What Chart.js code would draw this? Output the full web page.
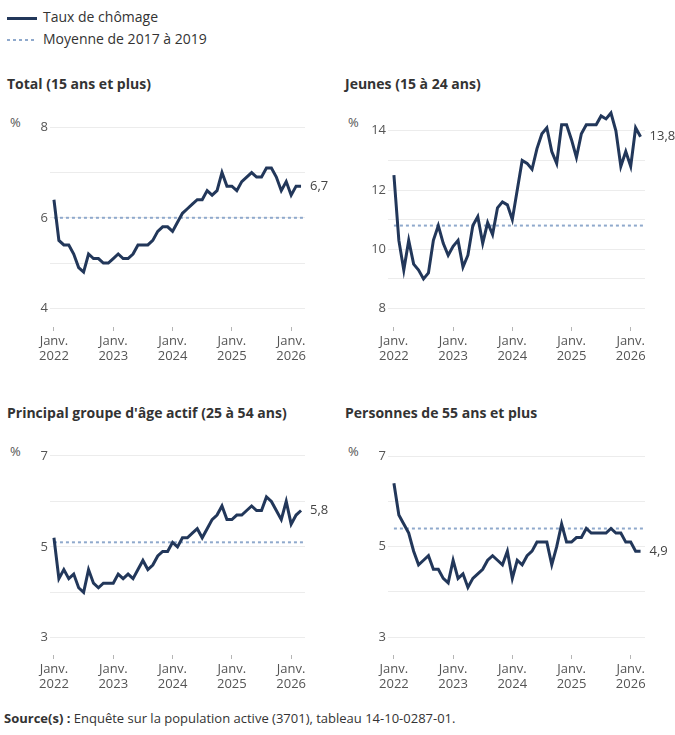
<!DOCTYPE html>
<html lang="fr">
<head>
<meta charset="utf-8">
<script src="https://cdn.jsdelivr.net/npm/chart.js@4.4.1/dist/chart.umd.min.js"></script>
<style>
  body { margin: 0; width: 675px; height: 735px; background: #fff; font-family: "Open Sans", sans-serif; color: #333; position: relative; overflow: hidden; }
  .abs { position: absolute; white-space: nowrap; }
  .leg { font-size: 14px; line-height: 18px; }
  .sw { display: inline-block; width: 30px; vertical-align: middle; margin-right: 6px; }
  .titre { font-size: 14px; font-weight: bold; line-height: 18px; }
  .pct { font-size: 13px; color: #555; line-height: 16px; }
  canvas { position: absolute; }
</style>
</head>
<body>
<div class="abs leg" style="left:7px; top:8px"><span class="sw" style="height:3px; background:#22375a"></span>Taux de chômage</div>
<div class="abs leg" style="left:7px; top:30px"><span class="sw" style="height:2px; width:28px; margin-right:8px; background:linear-gradient(to right, #8fa9cc 0 3px, transparent 3px 6px) repeat-x; background-size:6px 2px"></span>Moyenne de 2017 à 2019</div>

<div class="abs titre" style="left:7px; top:75px">Total (15 ans et plus)</div>
<div class="abs titre" style="left:345px; top:75px">Jeunes (15 à 24 ans)</div>
<div class="abs titre" style="left:7px; top:404px">Principal groupe d'âge actif (25 à 54 ans)</div>
<div class="abs titre" style="left:345px; top:404px">Personnes de 55 ans et plus</div>

<div class="abs pct" style="left:10px; top:114px">%</div>
<div class="abs pct" style="left:348px; top:114px">%</div>
<div class="abs pct" style="left:10px; top:443px">%</div>
<div class="abs pct" style="left:348px; top:443px">%</div>

<canvas id="c1"></canvas>
<canvas id="c2"></canvas>
<canvas id="c3"></canvas>
<canvas id="c4"></canvas>

<div class="abs" style="left:4px; top:709px; font-size:13px; line-height:18px"><b>Source(s) :</b> Enquête sur la population active (3701), tableau 14-10-0287-01.</div>

<script>
const mois = [
  'janv. 2022','févr. 2022','mars 2022','avr. 2022','mai 2022','juin 2022','juil. 2022','août 2022','sept. 2022','oct. 2022','nov. 2022','déc. 2022',
  'janv. 2023','févr. 2023','mars 2023','avr. 2023','mai 2023','juin 2023','juil. 2023','août 2023','sept. 2023','oct. 2023','nov. 2023','déc. 2023',
  'janv. 2024','févr. 2024','mars 2024','avr. 2024','mai 2024','juin 2024','juil. 2024','août 2024','sept. 2024','oct. 2024','nov. 2024','déc. 2024',
  'janv. 2025','févr. 2025','mars 2025','avr. 2025','mai 2025','juin 2025','juil. 2025','août 2025','sept. 2025','oct. 2025','nov. 2025','déc. 2025',
  'janv. 2026','févr. 2026','mars 2026'
]

const total = [
  6.4, 5.5, 5.4, 5.4, 5.2, 4.9, 4.8, 5.2, 5.1, 5.1, 5.0, 5.0,
  5.1, 5.2, 5.1, 5.1, 5.2, 5.4, 5.4, 5.4, 5.5, 5.7, 5.8, 5.8,
  5.7, 5.9, 6.1, 6.2, 6.3, 6.4, 6.4, 6.6, 6.5, 6.6, 7.0, 6.7,
  6.7, 6.6, 6.8, 6.9, 7.0, 6.9, 6.9, 7.1, 7.1, 6.9, 6.6, 6.8,
  6.5, 6.7, 6.7
]
const jeunes = [
  12.5, 10.3, 9.3, 10.3, 9.5, 9.3, 9.0, 9.2, 10.3, 10.8, 10.2, 9.8,
  10.1, 10.3, 9.4, 9.8, 10.8, 11.1, 10.2, 10.9, 10.5, 11.4, 11.6, 11.5,
  11.0, 12.0, 13.0, 12.9, 12.7, 13.4, 13.9, 14.1, 13.3, 12.9, 14.2, 14.2,
  13.7, 13.1, 13.9, 14.2, 14.2, 14.2, 14.5, 14.4, 14.6, 14.0, 12.8, 13.3,
  12.8, 14.1, 13.8
]
const principal = [
  5.2, 4.3, 4.5, 4.3, 4.4, 4.1, 4.0, 4.5, 4.2, 4.1, 4.2, 4.2,
  4.2, 4.4, 4.3, 4.4, 4.3, 4.5, 4.7, 4.5, 4.6, 4.8, 4.9, 4.9,
  5.1, 5.0, 5.2, 5.2, 5.3, 5.4, 5.2, 5.4, 5.6, 5.7, 5.9, 5.6,
  5.6, 5.7, 5.7, 5.8, 5.9, 5.8, 5.8, 6.1, 6.0, 5.8, 5.6, 6.0,
  5.5, 5.7, 5.8
]
const aines = [
  6.4, 5.7, 5.5, 5.3, 4.9, 4.6, 4.7, 4.8, 4.5, 4.5, 4.3, 4.2,
  4.7, 4.3, 4.4, 4.1, 4.3, 4.4, 4.5, 4.7, 4.8, 4.7, 4.6, 4.9,
  4.3, 4.7, 4.6, 4.8, 4.9, 5.1, 5.1, 5.1, 4.6, 5.0, 5.5, 5.1,
  5.1, 5.2, 5.2, 5.4, 5.3, 5.3, 5.3, 5.3, 5.4, 5.3, 5.3, 5.1,
  5.1, 4.9, 4.9
]

// moyenne 2017-2019 : total, jeunes, principal, 55+
const moyennes = [6.0, 10.8, 5.1, 5.4]
// bornes des graduations en y
const bornesY = [[4, 8], [8, 14], [3, 7], [3, 7]]

const couleurLigne = '#22375a'
const couleurMoyenne = '#8fa9cc'

// valeur finale a droite de la courbe
const etiquetteFin = {
  id: 'etiquetteFin',
  afterDatasetsDraw(chart) {
    const meta = chart.getDatasetMeta(0)
    const pts = meta.data
    const last = pts[pts.length - 1]
    const val = chart.data.datasets[0].data[pts.length - 1].y
    const ctx = chart.ctx
    ctx.save()
    ctx.font = '13px "Open Sans"'
    ctx.fillStyle = '#444'
    ctx.textBaseline = 'middle'
    ctx.fillText(val.toFixed(1).replace('.', ','), last.x + 9, last.y)
    ctx.restore()
  }
}

function makePanel(id, values, avg, bornes, g) {
  const canvas = document.getElementById(id)
  canvas.width = g.w
  canvas.height = g.h
  canvas.style.left = g.left + 'px'
  canvas.style.top = g.top + 'px'
  const [lo, hi] = bornes
  const unit = (g.pxLo - g.pxHi) / (hi - lo)
  const yMax = hi + (g.pxHi - g.areaTop) / unit
  const yMin = lo - (g.areaBottom - g.pxLo) / unit

  new Chart(canvas.getContext('2d'), {
    type: 'line',
    data: {
      datasets: [{
        data: values.map((v, i) => ({ x: i, y: v })),
        borderColor: couleurLigne,
        borderWidth: 3,
        pointRadius: 0,
        tension: 0,
        order: 0
      }, {
        data: [{ x: 0, y: avg }, { x: g.xMax, y: avg }],
        borderColor: couleurMoyenne,
        borderWidth: 2,
        borderDash: [3, 3],
        pointRadius: 0,
        order: 1
      }]
    },
    options: {
      responsive: false,
      animation: false,
      events: [],
      layout: { padding: { top: g.areaTop - g.top, right: g.padRight, left: 0, bottom: 0 } },
      plugins: { legend: { display: false }, tooltip: { enabled: false } },
      scales: {
        x: {
          type: 'linear',
          min: g.xMin,
          max: g.xMax,
          afterBuildTicks: s => {
            s.ticks = mois.map((m, i) => ({ value: i, m: m })).filter(t => t.m.startsWith('janv.')).map(t => ({ value: t.value }))
          },
          afterFit: s => { s.height = g.h - (g.areaBottom - g.top) },
          grid: { drawOnChartArea: false, drawTicks: true, tickLength: 4, tickColor: '#b5b5b5', tickWidth: 1 },
          border: { display: false },
          ticks: {
            autoSkip: false,
            maxRotation: 0,
            padding: 2,
            color: '#555',
            font: { family: 'Open Sans', size: 13 },
            callback: v => ['Janv.', mois[v].split(' ')[1]]
          }
        },
        y: {
          min: yMin,
          max: yMax,
          afterBuildTicks: s => {
            const t = []
            for (let v = lo; v <= hi; v++) t.push({ value: v })
            s.ticks = t
          },
          afterFit: s => { s.width = g.yW },
          grid: { color: '#ececec', drawTicks: false, lineWidth: 1 },
          border: { display: false },
          ticks: {
            padding: 2,
            color: '#555',
            font: { family: 'Open Sans', size: 13 },
            callback: v => ((v - lo) % 2 === 0 ? String(v) : '')
          }
        }
      }
    },
    plugins: [etiquetteFin]
  })
}

makePanel('c1', total, moyennes[0], bornesY[0],
  { left: 0, top: 95, w: 335, h: 275, yW: 50, padRight: 30, pxHi: 127.3, pxLo: 308.3, areaTop: 112, areaBottom: 327, xMin: -0.8, xMax: 50.8 })
makePanel('c2', jeunes, moyennes[1], bornesY[1],
  { left: 335, top: 95, w: 340, h: 275, yW: 53, padRight: 30, pxHi: 128.3, pxLo: 308.3, areaTop: 102, areaBottom: 327, xMin: -1.2, xMax: 50.9 })
makePanel('c3', principal, moyennes[2], bornesY[2],
  { left: 0, top: 425, w: 335, h: 273, yW: 50, padRight: 30, pxHi: 456, pxLo: 637.7, areaTop: 442, areaBottom: 655, xMin: -0.8, xMax: 50.8 })
makePanel('c4', aines, moyennes[3], bornesY[3],
  { left: 335, top: 425, w: 340, h: 273, yW: 53, padRight: 30, pxHi: 456, pxLo: 637.3, areaTop: 442, areaBottom: 655, xMin: -1.2, xMax: 50.9 })
</script>
</body>
</html>
